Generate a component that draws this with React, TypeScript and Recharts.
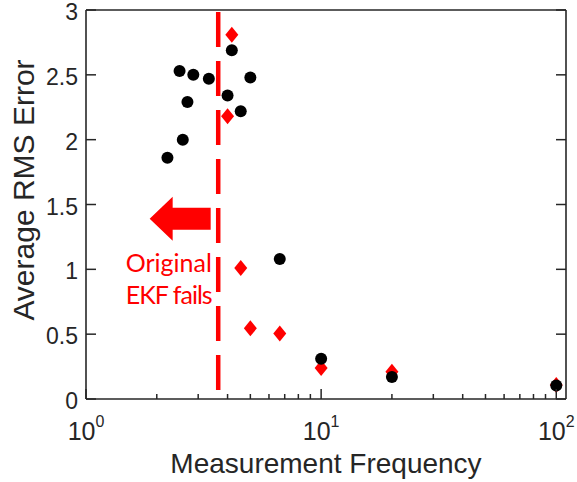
import React from 'react';
import { ScatterChart, Scatter, XAxis, YAxis, ReferenceLine } from 'recharts';

// values
const blackFreq = [2.22, 2.5, 2.58, 2.7, 2.86, 3.33, 4.0, 4.17, 4.55, 5.0, 6.67, 10, 20, 100];
const blackErr = [1.86, 2.53, 2.0, 2.29, 2.5, 2.47, 2.34, 2.69, 2.22, 2.48, 1.08, 0.31, 0.17, 0.105];
const redFreq = [4.0, 4.17, 4.55, 5.0, 6.67, 10, 20, 100];
const redErr = [2.18, 2.81, 1.01, 0.545, 0.506, 0.24, 0.21, 0.108];

const xTicks = [1, 2, 3, 4, 5, 6, 7, 8, 9, 10, 20, 30, 40, 50, 60, 70, 80, 90, 100];
const xMajor = [1, 10, 100];
const yTicks = [0, 0.5, 1, 1.5, 2, 2.5, 3];
const failLimit = 3.65;
const arrowAt = [{ f: 3.39, e: 1.39 }];

const blackData = blackFreq.map((f, i) => ({ f, e: blackErr[i] }));
const redData = redFreq.map((f, i) => ({ f, e: redErr[i] }));

const AXIS = '#262626';
const RED = '#ff0000';
const FONT = '"Liberation Sans", Arial, Helvetica, sans-serif';

const BottomTick = (props: any) => {
  const { x, y, payload } = props;
  const major = xMajor.includes(payload.value);
  return (
    <g>
      <line x1={x} x2={x} y1={y} y2={y - (major ? 10 : 5)} stroke={AXIS} strokeWidth={1.5} />
      {major && (
        <text x={x} y={y + 41} textAnchor="middle" fontSize={25} fill={AXIS} fontFamily={FONT}>
          10<tspan fontSize={16} dy={-13}>{Math.round(Math.log10(payload.value))}</tspan>
        </text>
      )}
    </g>
  );
};

const TopTick = (props: any) => {
  const { x, y, payload } = props;
  const major = xMajor.includes(payload.value);
  return <line x1={x} x2={x} y1={y} y2={y + (major ? 10 : 5)} stroke={AXIS} strokeWidth={1.5} />;
};

const LeftTick = (props: any) => {
  const { x, y, payload } = props;
  return (
    <g>
      <line x1={x} x2={x + 10} y1={y} y2={y} stroke={AXIS} strokeWidth={1.5} />
      <text x={x - 8} y={y + 10} textAnchor="end" fontSize={23} fill={AXIS} fontFamily={FONT}>
        {payload.value}
      </text>
    </g>
  );
};

const RightTick = (props: any) => {
  const { x, y } = props;
  return <line x1={x} x2={x - 10} y1={y} y2={y} stroke={AXIS} strokeWidth={1.5} />;
};

const Circle = (p: any) => <circle cx={p.cx} cy={p.cy} r={6} fill="#000" />;
const Diamond = (p: any) => (
  <polygon
    points={`${p.cx},${p.cy - 8} ${p.cx + 6.5},${p.cy} ${p.cx},${p.cy + 8} ${p.cx - 6.5},${p.cy}`}
    fill={RED}
  />
);

// left-pointing arrow plus the annotation text beneath it
const Arrow = (p: any) => {
  const { cx, cy } = p;
  const pts = [
    [0, -11], [-38, -11], [-38, -22], [-61, 0], [-38, 22], [-38, 11], [0, 11],
  ].map(([dx, dy]) => `${cx + dx},${cy + dy}`).join(' ');
  return (
    <g>
      <polygon points={pts} fill={RED} />
      <text x={cx - 85} y={cy + 53} fontSize={25} fill={RED} fontFamily="Lato, sans-serif">Original</text>
      <text x={cx - 85} y={cy + 85} fontSize={25} fill={RED} fontFamily="Lato, sans-serif" textLength={87}>EKF fails</text>
    </g>
  );
};

export default function App() {
  return (
    <div style={{ position: 'absolute', left: 0, top: 0, background: '#fff' }}>
      <ScatterChart width={577} height={482} margin={{ top: 0, right: 0, bottom: 0, left: 0 }}>
        <XAxis
          xAxisId="b"
          dataKey="f"
          type="number"
          scale="log"
          domain={[1, 110]}
          allowDataOverflow
          ticks={xTicks}
          interval={0}
          height={83}
          tickSize={0}
          tickMargin={0}
          tickLine={false}
          axisLine={{ stroke: AXIS, strokeWidth: 1.6 }}
          tick={(p: any) => <BottomTick {...p} />}
          label={{ value: 'Measurement Frequency', position: 'insideBottom', offset: 9, fontSize: 28, fill: AXIS, fontFamily: FONT }}
        />
        <XAxis
          xAxisId="t"
          orientation="top"
          type="number"
          scale="log"
          domain={[1, 110]}
          allowDataOverflow
          ticks={xTicks}
          interval={0}
          height={10}
          tickSize={0}
          tickMargin={0}
          tickLine={false}
          axisLine={{ stroke: AXIS, strokeWidth: 1.6 }}
          tick={(p: any) => <TopTick {...p} />}
        />
        <YAxis
          yAxisId="l"
          dataKey="e"
          type="number"
          domain={[0, 3]}
          allowDataOverflow
          ticks={yTicks}
          interval={0}
          width={86}
          tickSize={0}
          tickMargin={0}
          tickLine={false}
          axisLine={{ stroke: AXIS, strokeWidth: 1.6 }}
          tick={(p: any) => <LeftTick {...p} />}
          label={() => (
            <text
              x={34}
              y={190}
              transform="rotate(-90 34 190)"
              textAnchor="middle"
              fontSize={30}
              fill={AXIS}
              fontFamily={FONT}
            >
              Average RMS Error
            </text>
          )}
        />
        <YAxis
          yAxisId="r"
          orientation="right"
          type="number"
          domain={[0, 3]}
          allowDataOverflow
          ticks={yTicks}
          interval={0}
          width={11}
          tickSize={0}
          tickMargin={0}
          tickLine={false}
          axisLine={{ stroke: AXIS, strokeWidth: 1.6 }}
          tick={(p: any) => <RightTick {...p} />}
        />
        <ReferenceLine
          xAxisId="b"
          yAxisId="l"
          x={failLimit}
          stroke={RED}
          strokeWidth={4.5}
          strokeDasharray="35 14"
          strokeDashoffset={40}
        />
        <Scatter xAxisId="b" yAxisId="l" data={arrowAt} shape={Arrow} isAnimationActive={false} />
        <Scatter xAxisId="b" yAxisId="l" data={redData} shape={Diamond} isAnimationActive={false} />
        <Scatter xAxisId="b" yAxisId="l" data={blackData} shape={Circle} isAnimationActive={false} />
      </ScatterChart>
    </div>
  );
}
